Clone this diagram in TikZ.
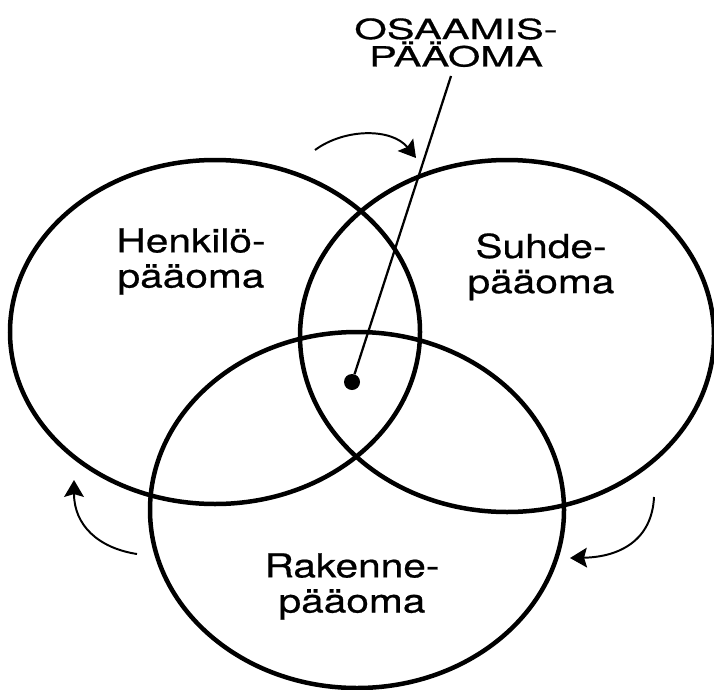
\documentclass[tikz,border=0pt]{standalone}
\usepackage{fontspec}
\setmainfont{TeX Gyre Heros}[FakeStretch=1.23,FakeBold=0.6]
\newfontfamily\capsfont{TeX Gyre Heros}[FakeStretch=1.5,FakeBold=0.6]
\usetikzlibrary{arrows.meta}
\begin{document}
\begin{tikzpicture}[x=0.025cm,y=-0.025cm,
  ring/.style={line width=3.2pt},
  turn/.style={line width=1.4pt,-{Stealth[length=12pt,width=14pt,inset=2pt]}},
  lbl/.style={anchor=north,align=center,inner sep=0pt,font=\fontsize{23.5}{25}\selectfont}]
  \useasboundingbox (0,0) rectangle (714,689);
  \foreach \cx/\cy/\rx/\ry in {215/332/205/172, 507/336/207/176, 357/510/207/178}
    \draw[ring] (\cx,\cy) ellipse [x radius=\rx, y radius=\ry];
  \foreach \nm/\x/\y/\txt in {henk/191/228/{Henkilö-\\pääoma}, suhde/541/233/{Suhde-\\pääoma}, rak/352/553/{Rakenne-\\pääoma}}
    \node[lbl] (\nm) at (\x,\y) {\txt};
  \node[lbl, font=\capsfont\fontsize{19.8}{19.5}\selectfont] (osaam) at (456,18) {OSAAMIS-\\PÄÄOMA};
  \node[circle, fill, inner sep=0pt, minimum size=0.4cm] (ydin) at (352,382) {};
  \coordinate (kanta) at (451,76);
  \draw[line width=1.6pt] (kanta) -- (ydin);
  \coordinate (y1) at (315,150); \coordinate (y2) at (416,158);
  \coordinate (v1) at (137,554); \coordinate (v2) at (74,480);
  \coordinate (o1) at (654,497); \coordinate (o2) at (570,558);
  \draw[turn] (y1) .. controls (345,128) and (392,128) .. (y2);
  \draw[turn] (v1) .. controls (98,548) and (74,525) .. (v2);
  \draw[turn] (o1) .. controls (652,540) and (620,557) .. (o2);
\end{tikzpicture}
\end{document}
